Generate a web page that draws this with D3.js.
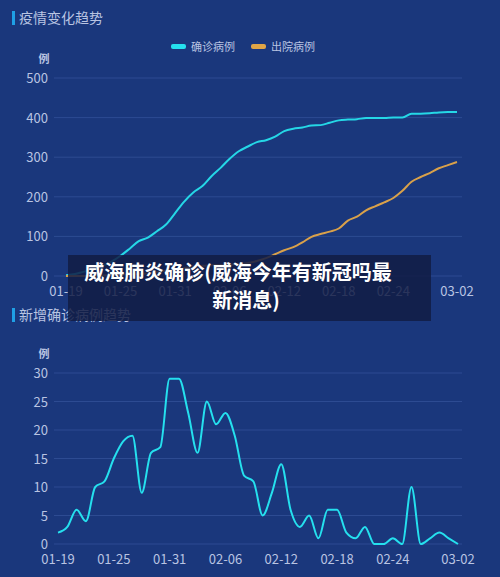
<!DOCTYPE html><html><head><meta charset="utf-8"><script src="https://cdn.jsdelivr.net/npm/d3@7"></script>
<style>body{margin:0;background:#1a377c}svg{display:block}</style></head><body><svg id="c" width="500" height="577"></svg>
<script>
const dates=["01-19","01-20","01-21","01-22","01-23","01-24","01-25","01-26","01-27","01-28","01-29","01-30","01-31","02-01","02-02","02-03","02-04","02-05","02-06","02-07","02-08","02-09","02-10","02-11","02-12","02-13","02-14","02-15","02-16","02-17","02-18","02-19","02-20","02-21","02-22","02-23","02-24","02-25","02-26","02-27","02-28","02-29","03-01","03-02"];
const tickLabels=["01-19","01-25","01-31","02-06","02-12","02-18","02-24","03-02"];
const confirmed=[2,5,11,15,25,36,51,69,88,97,113,130,159,188,211,227,252,273,296,315,327,338,343,352,366,372,375,380,381,387,393,395,396,399,399,399,400,400,410,410,411,413,414,414];
const discharged=[0,0,0,0,1,2,3,4,5,7,10,13,16,20,24,26,27,28,29,30,33,38,45,55,65,73,85,99,106,112,120,140,150,166,176,186,197,215,238,250,260,272,280,288];
const daily=[2,3,6,4,10,11,15,18,19,9,16,17,29,29,23,16,25,21,23,19,12,11,5,9,14,6,3,5,1,6,6,2,1,3,0,0,1,0,10,0,1,2,1,0];
const yTicksTop=[0,100,200,300,400,500], yTicksBot=[0,5,10,15,20,25,30];
const svg=d3.select("#c");
const FONT="'Noto Sans CJK SC','Noto Sans',sans-serif", lab="#b9c4e2", grid="#2d4b92";
function title(y,t){svg.append("rect").attr("x",12).attr("y",y-12).attr("width",3).attr("height",14).attr("fill","#1fa0e6");
 svg.append("text").attr("x",19).attr("y",y).attr("fill",lab).attr("font-size",14).attr("font-family",FONT).text(t);}
function chart(y0,y1,x0,x1,maxV,ticks,series){
 const x=d3.scalePoint().domain(dates).range([x0,x1]);
 const y=d3.scaleLinear().domain([0,maxV]).range([y0,y1]);
 const g=svg.append("g");
 ticks.forEach(t=>{g.append("line").attr("x1",54).attr("x2",462).attr("y1",y(t)).attr("y2",y(t)).attr("stroke",grid).attr("stroke-width",1);
  g.append("text").attr("x",48).attr("y",y(t)+5).attr("text-anchor","end").attr("fill",lab).attr("font-size",13).attr("font-family",FONT).text(t);});
 g.append("text").attr("x",44).attr("y",y1-15).attr("text-anchor","middle").attr("fill",lab).attr("font-size",11).attr("font-weight","bold").attr("font-family",FONT).text("例");
 tickLabels.forEach(d=>g.append("text").attr("x",x(d)).attr("y",y0+20).attr("text-anchor","middle").attr("fill",lab).attr("font-size",13).attr("font-family",FONT).text(d));
 series.forEach(([vals,col])=>g.append("path").datum(vals).attr("fill","none").attr("stroke",col).attr("stroke-width",2)
  .attr("d",d3.line().x((d,i)=>x(dates[i])).y(d=>y(d)).curve(d3.curveMonotoneX)));
}
title(23,"疫情变化趋势");
[["确诊病例","#25e0ee",175],["出院病例","#e0a546",255]].forEach(([t,c,xx])=>{
 svg.append("rect").attr("x",xx-4).attr("y",44).attr("width",15).attr("height",5).attr("rx",2).attr("fill",c);
 svg.append("text").attr("x",xx+16).attr("y",51).attr("fill",lab).attr("font-size",11).attr("font-family",FONT).text(t);});
chart(276,78,66,457,500,yTicksTop,[[confirmed,"#25d7e6"],[discharged,"#d9a14a"]]);
title(320,"新增确诊病例趋势");
chart(544,373,58,458,30,yTicksBot,[[daily,"#25e0ee"]]);
svg.append("rect").attr("x",68).attr("y",255).attr("width",363).attr("height",66).attr("fill","rgba(18,28,68,0.85)");
svg.append("text").attr("x",238).attr("y",280).attr("text-anchor","middle").attr("fill","#fff").attr("font-size",20).attr("font-weight","bold").attr("font-family",FONT).text("威海肺炎确诊(威海今年有新冠吗最");
svg.append("text").attr("x",246).attr("y",308).attr("text-anchor","middle").attr("fill","#fff").attr("font-size",20).attr("font-weight","bold").attr("font-family",FONT).text("新消息)");
</script></body></html>
